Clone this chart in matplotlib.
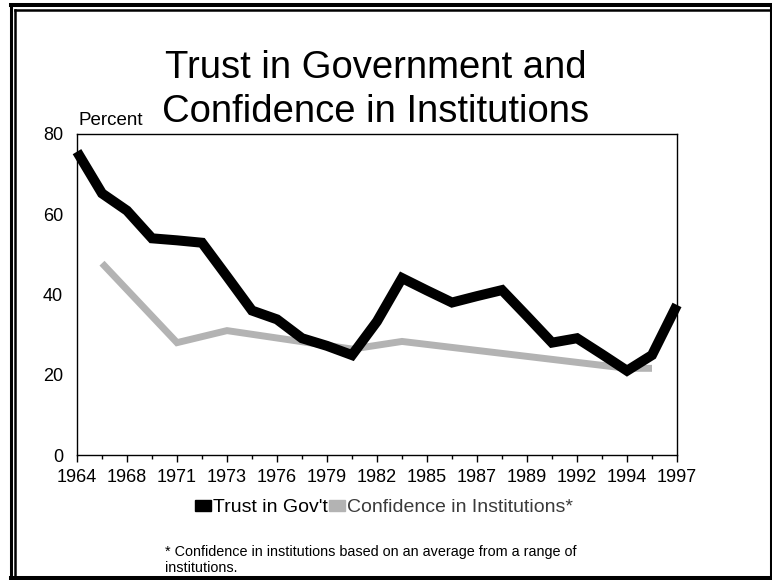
import matplotlib
matplotlib.use("Agg")
import matplotlib.pyplot as plt
from matplotlib.lines import Line2D
from matplotlib.patches import Patch

plt.rcParams["font.family"] = ["Liberation Sans", "DejaVu Sans"]

W, H = 772, 580

# survey years shown on the axis (every other slot is labelled)
year_labels = ["1964", "1968", "1971", "1973", "1976", "1979", "1982",
               "1985", "1987", "1989", "1992", "1994", "1997"]

# trust in government, one value per survey slot (25 slots)
trust_gov = [75.6, 65.2, 60.9, 54.0, 53.5, 52.9, 44.5, 36.0, 33.8, 29.1,
             27.2, 24.9, 33.3, 44.1, 41.0, 38.0, 39.6, 41.1, 34.6, 28.0,
             29.1, 25.1, 21.0, 24.9, 37.4]

# confidence in institutions, only measured in some slots
conf_slots = [1, 4, 6, 11, 13, 22, 23]
conf_inst = [47.8, 28.0, 31.0, 26.4, 28.3, 21.6, 21.6]

BLACK = "#000000"
GREY = "#b3b3b3"


def fx(x):
    return x / W


def fy(y):
    return 1 - y / H


fig = plt.figure(figsize=(W / 100, H / 100), dpi=100)
ax = fig.add_axes([fx(77), fy(455), (677 - 77) / W, (455 - 134) / H])

ax.plot(conf_slots, conf_inst, color=GREY, lw=5, solid_capstyle="butt",
        solid_joinstyle="miter", clip_on=False, zorder=2)
ax.plot(range(len(trust_gov)), trust_gov, color=BLACK, lw=7.2,
        solid_capstyle="butt", solid_joinstyle="miter", clip_on=False, zorder=3)

ax.set_xlim(0, len(trust_gov) - 1)
ax.set_ylim(0, 80)
ax.set_xticks(range(0, len(trust_gov), 2))
ax.set_xticklabels(year_labels)
ax.set_xticks(range(1, len(trust_gov), 2), minor=True)
ax.set_yticks([0, 20, 40, 60, 80])
ax.tick_params(axis="x", which="major", length=5, width=1, pad=5, labelsize=13)
ax.tick_params(axis="x", which="minor", length=3, width=1)
ax.tick_params(axis="y", length=0, pad=10, labelsize=13)
for s in ax.spines.values():
    s.set_linewidth(1)
    s.set_color("#000000")

fig.text(fx(376), fy(78), "Trust in Government and", ha="center",
         va="baseline", fontsize=27.5)
fig.text(fx(376), fy(122), "Confidence in Institutions", ha="center",
         va="baseline", fontsize=27.5)
fig.text(fx(78), fy(125), "Percent", ha="left", va="baseline", fontsize=13.5)

handles = [Patch(facecolor=BLACK, edgecolor=BLACK),
           Patch(facecolor=GREY, edgecolor=GREY)]
leg = fig.legend(handles, ["Trust in Gov't", "Confidence in Institutions*"],
                 loc="center", bbox_to_anchor=(fx(384), fy(508)), ncol=2,
                 frameon=False, fontsize=14, handlelength=0.8,
                 handleheight=0.5, handletextpad=0.1, columnspacing=0.1,
                 borderpad=0)
leg.get_texts()[1].set_color("#3a3a3a")

fig.text(fx(165), fy(556), "* Confidence in institutions based on an average from a range of",
         ha="left", va="baseline", fontsize=10.4)
fig.text(fx(165), fy(572), "institutions.", ha="left", va="baseline", fontsize=10.4)

# double border around the slide
def border(x0, y0, x1, y1, lw):
    fig.add_artist(Line2D([fx(x0), fx(x1)], [fy(y0), fy(y1)], color="black",
                          lw=lw, solid_capstyle="projecting"))

border(10.5, 5, 770.5, 5, 2.9)
border(10.5, 5, 10.5, 578, 2.2)
border(770.5, 5, 770.5, 578, 2.2)
border(10.5, 578, 770.5, 578, 2.9)
border(15.5, 9.5, 770, 9.5, 1.8)
border(15.5, 9.5, 15.5, 578, 1.8)

fig.savefig("out.png", dpi=100)
